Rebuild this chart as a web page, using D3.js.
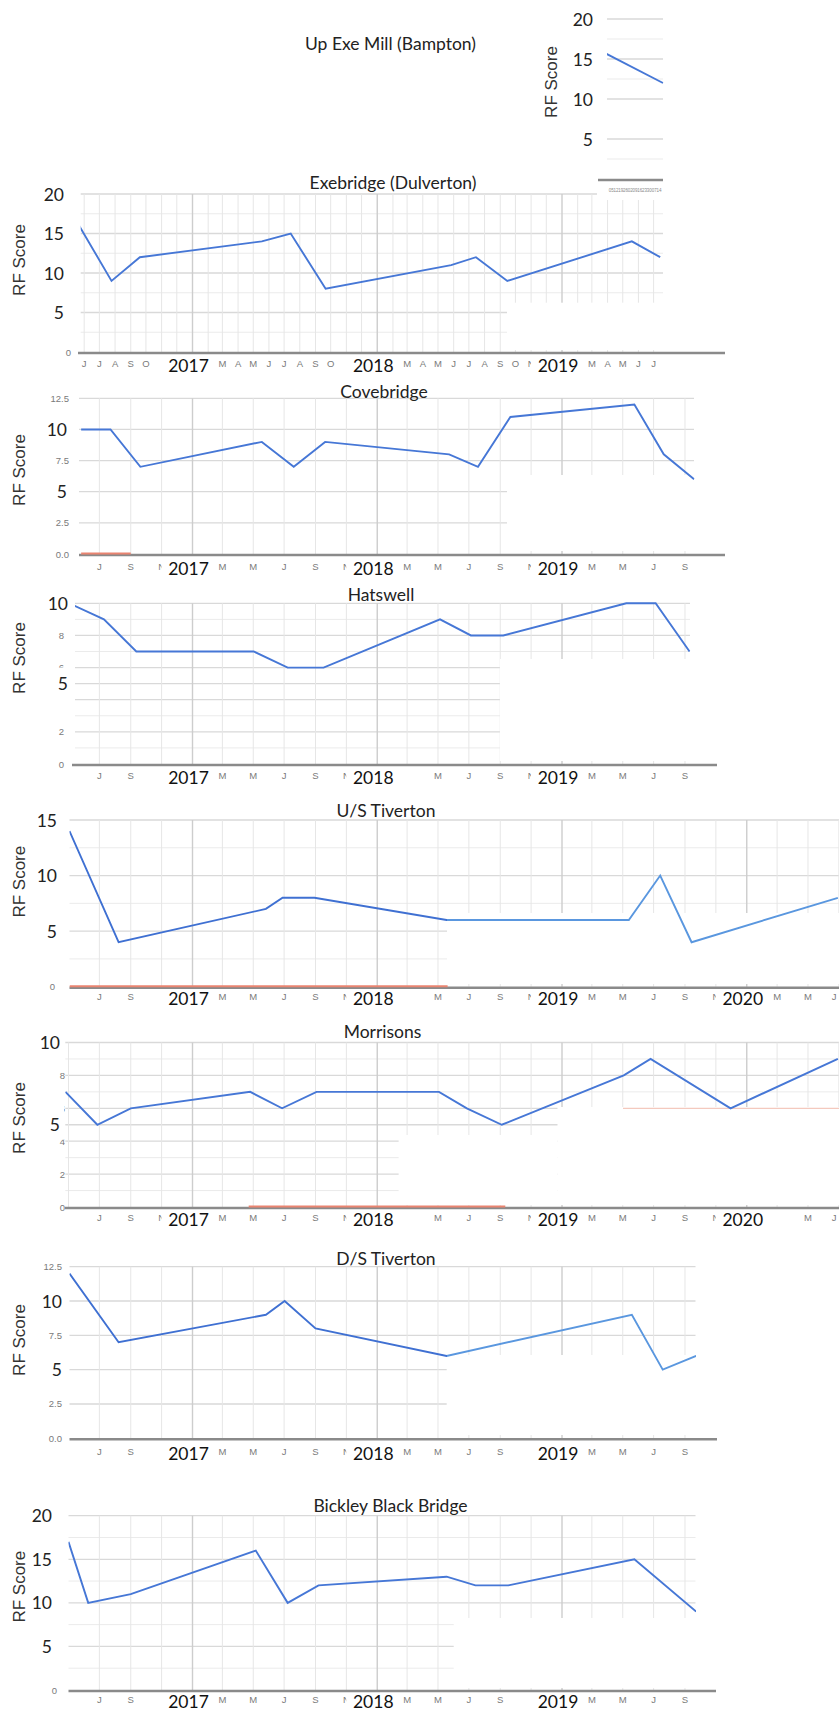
<!DOCTYPE html>
<html>
<head>
<meta charset="utf-8">
<script src="https://cdn.jsdelivr.net/npm/d3@7/dist/d3.min.js"></script>
<style>
  html, body { margin: 0; padding: 0; background: #fff; }
  svg { display: block; }
</style>
</head>
<body>
<svg id="chart" width="839" height="1712"></svg>
<script>
// ---------- RF scores by sampling date, one pair of arrays per site ----------
const upExeDates = ["2019-04-20", "2019-07-20"];
const upExeScores = [16, 12];

const exebridgeDates = ["2016-05-22","2016-07-25","2016-09-19","2017-05-18","2017-07-14","2017-09-21",
                        "2018-05-27","2018-07-15","2018-09-15","2019-05-19","2019-07-14"];
const exebridgeScores = [16, 9, 12, 14, 15, 8, 11, 12, 9, 14, 12];

const covebridgeDates = ["2016-05-26","2016-07-23","2016-09-20","2017-05-18","2017-07-20","2017-09-20",
                         "2018-05-23","2018-07-19","2018-09-21","2019-05-24","2019-07-21","2019-09-19"];
const covebridgeScores = [10, 10, 7, 9, 7, 9, 8, 7, 11, 12, 8, 6];

const hatswellDates = ["2016-05-02","2016-07-10","2016-09-12","2017-05-02","2017-07-08","2017-09-17",
                       "2018-05-05","2018-07-05","2018-09-07","2019-05-08","2019-07-05","2019-09-10"];
const hatswellScores = [10, 9, 7, 7, 6, 6, 9, 8, 8, 10, 10, 7];

const usTivertonDates = ["2016-05-03","2016-08-08","2017-05-26","2017-06-28","2017-08-30","2018-05-18",
                         "2019-05-13","2019-07-14","2019-09-14","2020-06-29"];
const usTivertonScores = [14, 4, 7, 8, 8, 6, 6, 10, 4, 8];

const morrisonsDates = ["2016-04-25","2016-06-27","2016-09-01","2017-04-25","2017-06-27","2017-09-03",
                        "2018-05-03","2018-06-27","2018-09-04","2019-05-03","2019-06-25","2019-11-30","2020-06-29"];
const morrisonsScores = [7, 5, 6, 7, 6, 7, 7, 6, 5, 8, 9, 6, 9];

const dsTivertonDates = ["2016-05-03","2016-08-08","2017-05-26","2017-07-02","2017-09-01","2018-05-18",
                         "2019-05-19","2019-07-19","2019-09-23"];
const dsTivertonScores = [12, 7, 9, 10, 8, 6, 9, 5, 6];

const bickleyDates = ["2016-05-01","2016-06-09","2016-09-01","2017-05-06","2017-07-08","2017-09-07",
                      "2018-05-18","2018-07-14","2018-09-17","2019-05-24","2019-09-23"];
const bickleyScores = [17, 10, 11, 16, 10, 12, 13, 12, 12, 15, 9];

// Second series that sits on zero (only partly visible)
const covebridgeZeroDates = ["2016-05-26", "2016-09-01"];
const usTivertonZeroDates = ["2016-05-03", "2018-05-20"];
const morrisonsZeroDates = ["2017-04-22", "2018-09-11"];

// ---------- y tick labels ----------
const upExeYTicks = ["20", "15", "10", "5"];
const exebridgeYTicks = ["20", "15", "10", "5", "0"];
const covebridgeYTicks = ["12.5", "10", "7.5", "5", "2.5", "0.0"];
const hatswellYTicks = ["10", "8", "6", "5", "4", "2", "0"];
const usTivertonYTicks = ["15", "10", "5", "0"];
const morrisonsYTicks = ["10", "8", "6", "5", "4", "2", "0"];
const dsTivertonYTicks = ["12.5", "10", "7.5", "5", "2.5", "0.0"];
const bickleyYTicks = ["20", "15", "10", "5", "0"];

// ---------- x tick labels (month starts; January shows the year) ----------
const exebridgeMonths = ["2016-06","2016-07","2016-08","2016-09","2016-10","2017-01","2017-03","2017-04","2017-05",
  "2017-06","2017-07","2017-08","2017-09","2017-10","2018-01","2018-03","2018-04","2018-05","2018-06","2018-07",
  "2018-08","2018-09","2018-10","2018-11","2019-01","2019-03","2019-04","2019-05","2019-06","2019-07"];
const covebridgeMonths = ["2016-07","2016-09","2016-11","2017-01","2017-03","2017-05","2017-07","2017-09","2017-11",
  "2018-01","2018-03","2018-05","2018-07","2018-09","2018-11","2019-01","2019-03","2019-05","2019-07","2019-09"];
const hatswellMonths = ["2016-07","2016-09","2017-01","2017-03","2017-05","2017-07","2017-09","2017-11","2018-01",
  "2018-05","2018-07","2018-09","2018-11","2019-01","2019-03","2019-05","2019-07","2019-09"];
const usTivertonMonths = ["2016-07","2016-09","2017-01","2017-03","2017-05","2017-07","2017-09","2017-11","2018-01",
  "2018-05","2018-07","2018-09","2018-11","2019-01","2019-03","2019-05","2019-07","2019-09","2019-11","2020-01",
  "2020-03","2020-05","2020-07"];
const morrisonsMonths = ["2016-07","2016-09","2016-11","2017-01","2017-03","2017-05","2017-07","2017-09","2017-11",
  "2018-01","2018-05","2018-07","2018-09","2018-11","2019-01","2019-03","2019-05","2019-07","2019-09","2019-11",
  "2020-01","2020-05","2020-07"];
const dsTivertonMonths = ["2016-07","2016-09","2017-01","2017-03","2017-05","2017-07","2017-09","2017-11","2018-01",
  "2018-03","2018-05","2018-07","2018-09","2019-01","2019-03","2019-05","2019-07","2019-09"];
const bickleyMonths = dsTivertonMonths;

// ---------- drawing ----------
const svg = d3.select("#chart");
const defs = svg.append("defs");
const FONT_TITLE = "Lato, 'Open Sans', sans-serif";
const FONT_SANS = "'Liberation Sans', Arial, sans-serif";
const MONTH_INITIALS = "JFMAMJJASOND";
const LINE_BLUE = "#4677d6";
const WIDTH = 839;
const parseDate = d3.timeParse("%Y-%m-%d");
const parseMonth = d3.timeParse("%Y-%m");

// Shared date axis for the full-size site charts
const xMain = d3.scaleTime()
  .domain([new Date(2017, 0, 1), new Date(2019, 0, 1)])
  .range([192.5, 562]);

// Compressed date axis of the small Bampton chart
const xMini = d3.scaleTime()
  .domain([parseDate(upExeDates[0]), parseDate(upExeDates[1])])
  .range([601, 663]);

let clipCount = 0;

function drawPanel(p) {
  const xs = p.xScale;
  const y = d3.scaleLinear().domain([0, p.yMax]).range([p.y0, p.yTop]);
  const g = svg.append("g");
  const labelled = p.yTicks.map(Number);

  // horizontal gridlines
  const hVals = d3.range(0, p.yMax + 1e-6, p.yStep).filter(v => v > 0);
  g.append("g").selectAll("line").data(hVals).join("line")
    .attr("x1", p.left).attr("x2", p.right)
    .attr("y1", d => y(d)).attr("y2", d => y(d))
    .attr("stroke", d => labelled.includes(d) ? "#d9d9d9" : "#ebebeb")
    .attr("stroke-width", d => labelled.includes(d) ? 1.3 : 1);

  // vertical month gridlines, darker at the start of each year
  if (p.monthStep) {
    const months = d3.timeMonth.every(p.monthStep).range(xs.invert(p.left), xs.invert(p.right + 0.5));
    g.append("g").selectAll("line").data(months).join("line")
      .attr("x1", d => xs(d)).attr("x2", d => xs(d))
      .attr("y1", p.yTop).attr("y2", p.y0)
      .attr("stroke", d => d.getMonth() === 0 ? "#cdcdcd" : "#e6e6e6")
      .attr("stroke-width", d => d.getMonth() === 0 ? 1.4 : 1);
  }

  // blank areas without gridlines
  (p.patches || []).forEach(([x1, y1, x2, y2]) => {
    g.append("rect").attr("x", x1).attr("y", y1)
      .attr("width", x2 - x1).attr("height", y2 - y1).attr("fill", "#fff");
  });
  (p.rules || []).forEach(r => {
    g.append("line").attr("x1", r.x1).attr("x2", r.x2)
      .attr("y1", y(r.v)).attr("y2", y(r.v))
      .attr("stroke", r.color).attr("stroke-width", 1.3);
  });

  // y tick labels: small grey ones, then boxed large ones
  const smallTicks = p.yTicks.filter(t => !p.big.includes(t));
  g.append("g").selectAll("text").data(smallTicks).join("text")
    .attr("x", p.smallRight).attr("y", d => y(+d))
    .attr("text-anchor", "end").attr("dominant-baseline", "central")
    .attr("font-family", FONT_SANS).attr("font-size", 9.5).attr("fill", "#7a7a7a")
    .text(d => d);
  (p.labelBoxes || []).forEach(b => {
    g.append("rect").attr("x", b.x1).attr("y", y(b.v) + b.dy1)
      .attr("width", b.x2 - b.x1).attr("height", b.dy2 - b.dy1).attr("fill", "#fff");
  });
  const bigTicks = p.yTicks.filter(t => p.big.includes(t));
  g.append("g").selectAll("text").data(bigTicks).join("text")
    .attr("x", p.bigRight).attr("y", d => y(+d))
    .attr("text-anchor", "end").attr("dominant-baseline", "central")
    .attr("font-family", FONT_TITLE).attr("font-size", 17.5).attr("fill", "#222")
    .text(d => d);

  // x tick labels (kept inside the page at the right edge)
  if (p.months) {
    const ticks = p.months.map(parseMonth);
    g.append("g").selectAll("text").data(ticks.filter(d => d.getMonth() !== 0)).join("text")
      .attr("x", d => Math.min(xs(d), WIDTH - 5)).attr("y", p.labelY)
      .attr("text-anchor", "middle").attr("dominant-baseline", "central")
      .attr("font-family", FONT_SANS).attr("font-size", 9.5).attr("fill", "#7a7a7a")
      .text(d => MONTH_INITIALS[d.getMonth()]);
    const years = g.append("g").selectAll("g").data(ticks.filter(d => d.getMonth() === 0)).join("g")
      .attr("transform", d => `translate(${xs(d) - 4},${p.labelY + 2})`);
    years.append("rect").attr("x", -27).attr("y", -10).attr("width", 54).attr("height", 21).attr("fill", "#fff");
    years.append("text")
      .attr("text-anchor", "middle").attr("dominant-baseline", "central")
      .attr("font-family", FONT_TITLE).attr("font-size", 17.5).attr("fill", "#111")
      .text(d => d.getFullYear());
  }
  if (p.tinyTicks) {
    g.append("rect").attr("x", 597).attr("y", p.y0 + 2).attr("width", 66).attr("height", 19).attr("fill", "#fff");
    const tt = xs.ticks(d3.timeWeek.every(1)).filter(d => xs(d) >= p.left && xs(d) <= p.right);
    g.append("g").selectAll("text").data(tt).join("text")
      .attr("x", d => xs(d)).attr("y", p.labelY)
      .attr("text-anchor", "middle").attr("dominant-baseline", "central")
      .attr("font-family", FONT_SANS).attr("font-size", 4.5).attr("fill", "#8a8a8a")
      .text(d3.timeFormat("%d"));
  }

  // baseline of the value axis
  g.append("line").attr("x1", p.axisX1).attr("x2", p.axisX2)
    .attr("y1", y(0) + 1).attr("y2", y(0) + 1)
    .attr("stroke", "#8a8a8a").attr("stroke-width", 2.6);

  // clipping to the plot extent
  const clipId = "plotclip" + (clipCount++);
  defs.append("clipPath").attr("id", clipId).append("rect")
    .attr("x", p.left).attr("y", p.yTop - 30)
    .attr("width", p.right - p.left + 0.5).attr("height", p.y0 - p.yTop + 60);

  const line = d3.line().x(d => xs(d.date)).y(d => y(d.v));

  if (p.zeroDates) {
    const zeros = p.zeroDates.map(s => ({ date: parseDate(s), v: 0 }));
    g.append("path").datum(zeros).attr("d", line)
      .attr("fill", "none").attr("stroke", "#ea8470").attr("stroke-width", 2)
      .attr("transform", "translate(0,-0.5)")
      .attr("clip-path", `url(#${clipId})`);
  }

  let stroke = LINE_BLUE;
  if (p.lightFrom) {
    const gid = "grad" + clipId;
    const grad = defs.append("linearGradient").attr("id", gid)
      .attr("gradientUnits", "userSpaceOnUse")
      .attr("x1", 0).attr("x2", WIDTH).attr("y1", 0).attr("y2", 0);
    const off = p.lightFrom / WIDTH;
    grad.append("stop").attr("offset", off).attr("stop-color", "#3f70d2");
    grad.append("stop").attr("offset", off).attr("stop-color", "#5a97df");
    stroke = `url(#${gid})`;
  }
  const pts = p.dates.map((s, i) => ({ date: parseDate(s), v: p.scores[i] }));
  g.append("path").datum(pts).attr("d", line)
    .attr("fill", "none").attr("stroke", stroke).attr("stroke-width", 1.9)
    .attr("stroke-linejoin", "miter").attr("stroke-linecap", "butt")
    .attr("clip-path", `url(#${clipId})`);

  // title and axis name
  g.append("text").attr("x", p.titleX).attr("y", p.titleY)
    .attr("text-anchor", "middle").attr("dominant-baseline", "central")
    .attr("font-family", FONT_TITLE).attr("font-size", 17.5).attr("fill", "#222")
    .text(p.title);
  g.append("text")
    .attr("transform", `translate(${p.rfX},${p.rfY}) rotate(-90)`)
    .attr("text-anchor", "middle").attr("dominant-baseline", "central")
    .attr("font-family", FONT_SANS).attr("font-size", 17).attr("fill", "#333")
    .text("RF Score");
}

const panels = [
  { title: "Exebridge (Dulverton)", titleX: 393, titleY: 182, dates: exebridgeDates, scores: exebridgeScores,
    yTicks: exebridgeYTicks, big: ["20", "15", "10", "5"], months: exebridgeMonths, xScale: xMain,
    yMax: 20, yStep: 2.5, y0: 352, yTop: 194, left: 80.7, right: 663, axisX1: 78, axisX2: 725,
    monthStep: 1, labelY: 363, bigRight: 64, smallRight: 71, rfX: 19, rfY: 260,
    patches: [[507, 302.7, 686, 350]] },
  { title: "Up Exe Mill (Bampton)", titleX: 390.5, titleY: 43, dates: upExeDates, scores: upExeScores,
    yTicks: upExeYTicks, big: upExeYTicks, xScale: xMini, tinyTicks: true,
    yMax: 20, yStep: 2.5, y0: 179, yTop: 19, left: 607, right: 663, axisX1: 598, axisX2: 663,
    monthStep: 0, labelY: 190, bigRight: 593, smallRight: 593, rfX: 551, rfY: 82,
    patches: [[565, 116, 672, 127]] },
  { title: "Covebridge", titleX: 384, titleY: 391.7, dates: covebridgeDates, scores: covebridgeScores,
    zeroDates: covebridgeZeroDates,
    yTicks: covebridgeYTicks, big: ["10", "5"], months: covebridgeMonths, xScale: xMain,
    yMax: 12.5, yStep: 2.5, y0: 554, yTop: 398.3, left: 79, right: 694, axisX1: 79, axisX2: 725,
    monthStep: 2, labelY: 566.7, bigRight: 67, smallRight: 69, rfX: 19, rfY: 470,
    patches: [[507, 475, 700, 551]] },
  { title: "Hatswell", titleX: 381, titleY: 594, dates: hatswellDates, scores: hatswellScores,
    yTicks: hatswellYTicks, big: ["10", "5"], months: hatswellMonths, xScale: xMain,
    yMax: 10, yStep: 1, y0: 764, yTop: 603.3, left: 75, right: 690, axisX1: 72, axisX2: 717,
    monthStep: 2, labelY: 775, bigRight: 68, smallRight: 64, rfX: 19, rfY: 658,
    patches: [[500, 659, 700, 761]],
    labelBoxes: [{ v: 5, x1: 43, x2: 75, dy1: -16, dy2: 21 }] },
  { title: "U/S Tiverton", titleX: 386, titleY: 810, dates: usTivertonDates, scores: usTivertonScores,
    zeroDates: usTivertonZeroDates, lightFrom: 447,
    yTicks: usTivertonYTicks, big: ["15", "10", "5"], months: usTivertonMonths, xScale: xMain,
    yMax: 15, yStep: 2.5, y0: 986.7, yTop: 820, left: 69.5, right: 839, axisX1: 69.5, axisX2: 839,
    monthStep: 2, labelY: 996.7, bigRight: 57, smallRight: 55, rfX: 19, rfY: 881.7,
    patches: [[447, 913, 839, 984]] },
  { title: "Morrisons", titleX: 382.5, titleY: 1031, dates: morrisonsDates, scores: morrisonsScores,
    zeroDates: morrisonsZeroDates,
    yTicks: morrisonsYTicks, big: ["10", "5"], months: morrisonsMonths, xScale: xMain,
    yMax: 10, yStep: 1, y0: 1207, yTop: 1042.5, left: 65.3, right: 839, axisX1: 65, axisX2: 839,
    monthStep: 2, labelY: 1217.7, bigRight: 60, smallRight: 65, rfX: 19, rfY: 1118,
    patches: [[557.5, 1107, 839, 1205], [398.6, 1135, 557.5, 1205]],
    rules: [{ v: 6, x1: 623, x2: 839, color: "#f4c9be" }],
    labelBoxes: [{ v: 5, x1: 38, x2: 64, dy1: -20, dy2: 15 }] },
  { title: "D/S Tiverton", titleX: 386, titleY: 1258.3, dates: dsTivertonDates, scores: dsTivertonScores,
    lightFrom: 447,
    yTicks: dsTivertonYTicks, big: ["10", "5"], months: dsTivertonMonths, xScale: xMain,
    yMax: 12.5, yStep: 2.5, y0: 1438.3, yTop: 1266.7, left: 69.5, right: 695.5, axisX1: 69.5, axisX2: 717,
    monthStep: 2, labelY: 1451.7, bigRight: 62, smallRight: 62, rfX: 19, rfY: 1340,
    patches: [[446.7, 1355, 700, 1435]] },
  { title: "Bickley Black Bridge", titleX: 390.5, titleY: 1505, dates: bickleyDates, scores: bickleyScores,
    yTicks: bickleyYTicks, big: ["20", "15", "10", "5"], months: bickleyMonths, xScale: xMain,
    yMax: 20, yStep: 2.5, y0: 1690, yTop: 1515.7, left: 68.5, right: 695.5, axisX1: 68.5, axisX2: 716,
    monthStep: 2, labelY: 1699.5, bigRight: 52, smallRight: 57, rfX: 19, rfY: 1586.7,
    patches: [[453.7, 1618, 717, 1688]] }
];

panels.forEach(drawPanel);
</script>
</body>
</html>
